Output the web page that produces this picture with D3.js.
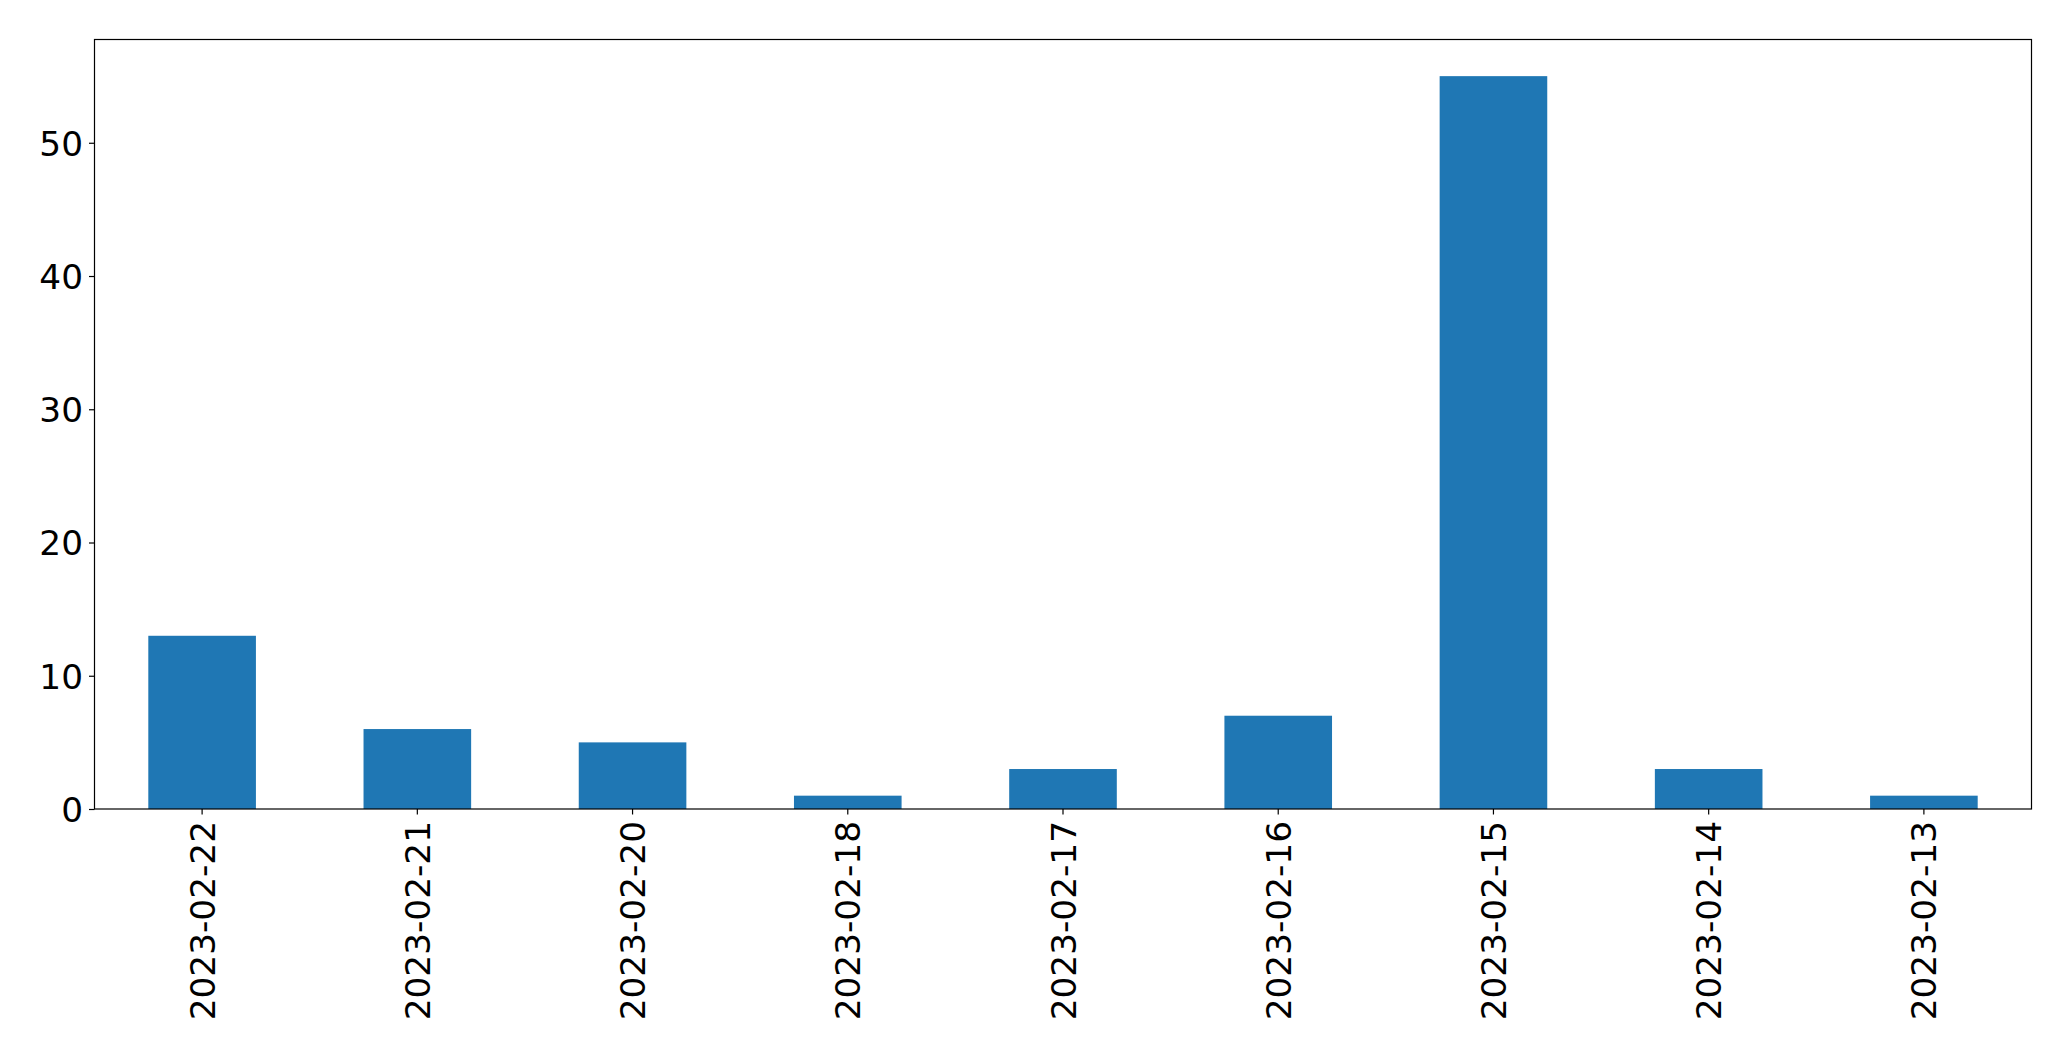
<!DOCTYPE html>
<html>
<head>
<meta charset="utf-8">
<script src="https://cdn.jsdelivr.net/npm/d3@7"></script>
<style>
  body { margin: 0; background: #fff; }
  .axis text { font-family: "DejaVu Sans", sans-serif; font-size: 34.3px; fill: #000; }
  .axis path, .axis line { stroke: #000; stroke-width: 1.2px; }
</style>
</head>
<body>
<div id="chartDiv"></div>
<script>
// values
let dates = ['2023-02-22', '2023-02-21', '2023-02-20', '2023-02-18', '2023-02-17',
             '2023-02-16', '2023-02-15', '2023-02-14', '2023-02-13'];
let counts = [13, 6, 5, 1, 3, 7, 55, 3, 1];
let yTicks = [0, 10, 20, 30, 40, 50];

let data = dates.map(function(d, i) { return {date: d, count: counts[i]}; });

let margin = {top: 39.5, right: 39.5, bottom: 252, left: 94.5};
let width = 2071 - margin.left - margin.right;
let height = 1061 - margin.top - margin.bottom;

let svg = d3.select('#chartDiv')
    .append('svg')
    .attr('width', 2071)
    .attr('height', 1061)
    .append('g')
    .attr('transform', 'translate(' + margin.left + ',' + margin.top + ')');

let xScale = d3.scaleBand()
    .domain(dates)
    .range([0, width])
    .paddingInner(0.5)
    .paddingOuter(0.25);

let yScale = d3.scaleLinear()
    .domain([0, d3.max(counts) * 1.05])
    .range([height, 0]);

svg.selectAll('rect')
    .data(data)
    .enter()
    .append('rect')
    .attr('fill', '#1f77b4')
    .attr('x', function(d) { return xScale(d.date); })
    .attr('width', xScale.bandwidth())
    .attr('y', function(d) { return yScale(d.count); })
    .attr('height', function(d) { return height - yScale(d.count); });

// frame
svg.append('rect')
    .attr('width', width)
    .attr('height', height)
    .attr('fill', 'none')
    .attr('stroke', '#000')
    .attr('stroke-width', 1.2);

svg.append('g')
    .attr('class', 'axis')
    .call(d3.axisLeft(yScale).tickValues(yTicks).tickSize(5.5).tickPadding(6))
    .call(function(g) { g.select('.domain').remove(); })
    .selectAll('text')
    .attr('dy', '0.36em');

svg.append('g')
    .attr('class', 'axis')
    .attr('transform', 'translate(0,' + height + ')')
    .call(d3.axisBottom(xScale).tickSize(5.5).tickPadding(6))
    .call(function(g) { g.select('.domain').remove(); })
    .selectAll('text')
    .attr('text-anchor', 'end')
    .attr('dy', '0')
    .attr('y', 0)
    .attr('x', 0)
    .attr('transform', 'translate(12.5,12) rotate(-90)');
</script>
</body>
</html>
